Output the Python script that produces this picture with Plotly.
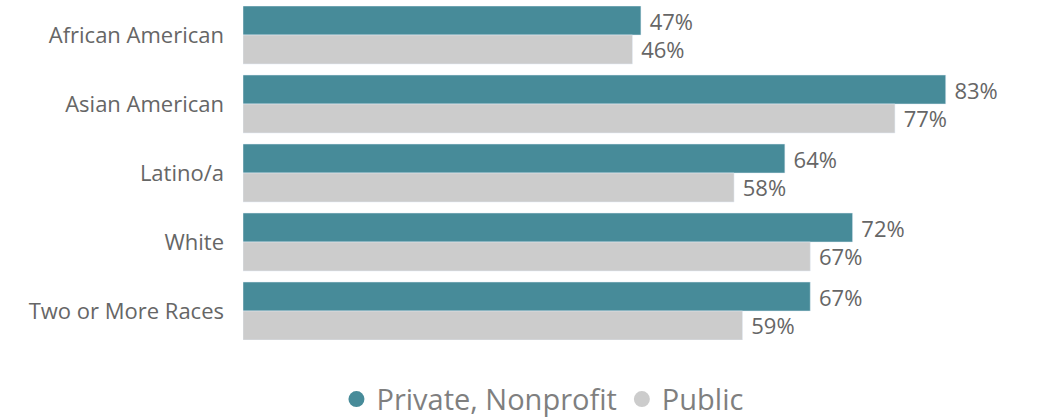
import plotly.graph_objects as go

categories = ["African American", "Asian American", "Latino/a", "White", "Two or More Races"]
private_vals = [47, 83, 64, 72, 67]
public_vals = [46, 77, 58, 67, 59]

TEAL = "#478B99"
GRAY = "#CCCCCC"
FONT = "Open Sans"
TXT = "#666666"

fig = go.Figure()
fig.add_trace(go.Bar(y=categories, x=private_vals, orientation="h", name="Private, Nonprofit",
                     marker_color=TEAL, text=private_vals, texttemplate=" %{x}%",
                     textposition="outside", cliponaxis=False, constraintext="none",
                     showlegend=False,
                     textfont=dict(size=22, color=TXT, family=FONT)))
fig.add_trace(go.Bar(y=categories, x=public_vals, orientation="h", name="Public",
                     marker_color=GRAY, text=public_vals, texttemplate=" %{x}%",
                     textposition="outside", cliponaxis=False, constraintext="none",
                     showlegend=False,
                     textfont=dict(size=22, color=TXT, family=FONT)))
# legend entries with circle markers
fig.add_trace(go.Scatter(x=[None], y=[None], mode="markers", name="Private, Nonprofit",
                         marker=dict(color=TEAL, size=18, symbol="circle")))
fig.add_trace(go.Scatter(x=[None], y=[None], mode="markers", name="Public",
                         marker=dict(color=GRAY, size=18, symbol="circle")))

fig.update_layout(
    width=1037, height=418,
    barmode="group", bargap=0.16, bargroupgap=0,
    margin=dict(l=243, r=32, t=6, b=78),
    plot_bgcolor="white", paper_bgcolor="white",
    font=dict(family=FONT, color=TXT, size=22),
    xaxis=dict(range=[0, 90], visible=False, showgrid=False, zeroline=False),
    yaxis=dict(autorange=False, range=[4.4203, -0.4203], showgrid=False, zeroline=False, showline=False,
               ticks="", ticklabelstandoff=18, tickfont=dict(size=22, color=TXT, family=FONT)),
    legend=dict(orientation="h", xref="paper", x=0.393, xanchor="center",
                yref="container", y=0.045, yanchor="middle",
                font=dict(size=29, color="#7F7F7F", family=FONT), itemsizing="trace",
                itemwidth=30, tracegroupgap=0),
)

fig.write_html("out.html", config={"displayModeBar": False},
               post_script="document.body.style.margin='0';")
